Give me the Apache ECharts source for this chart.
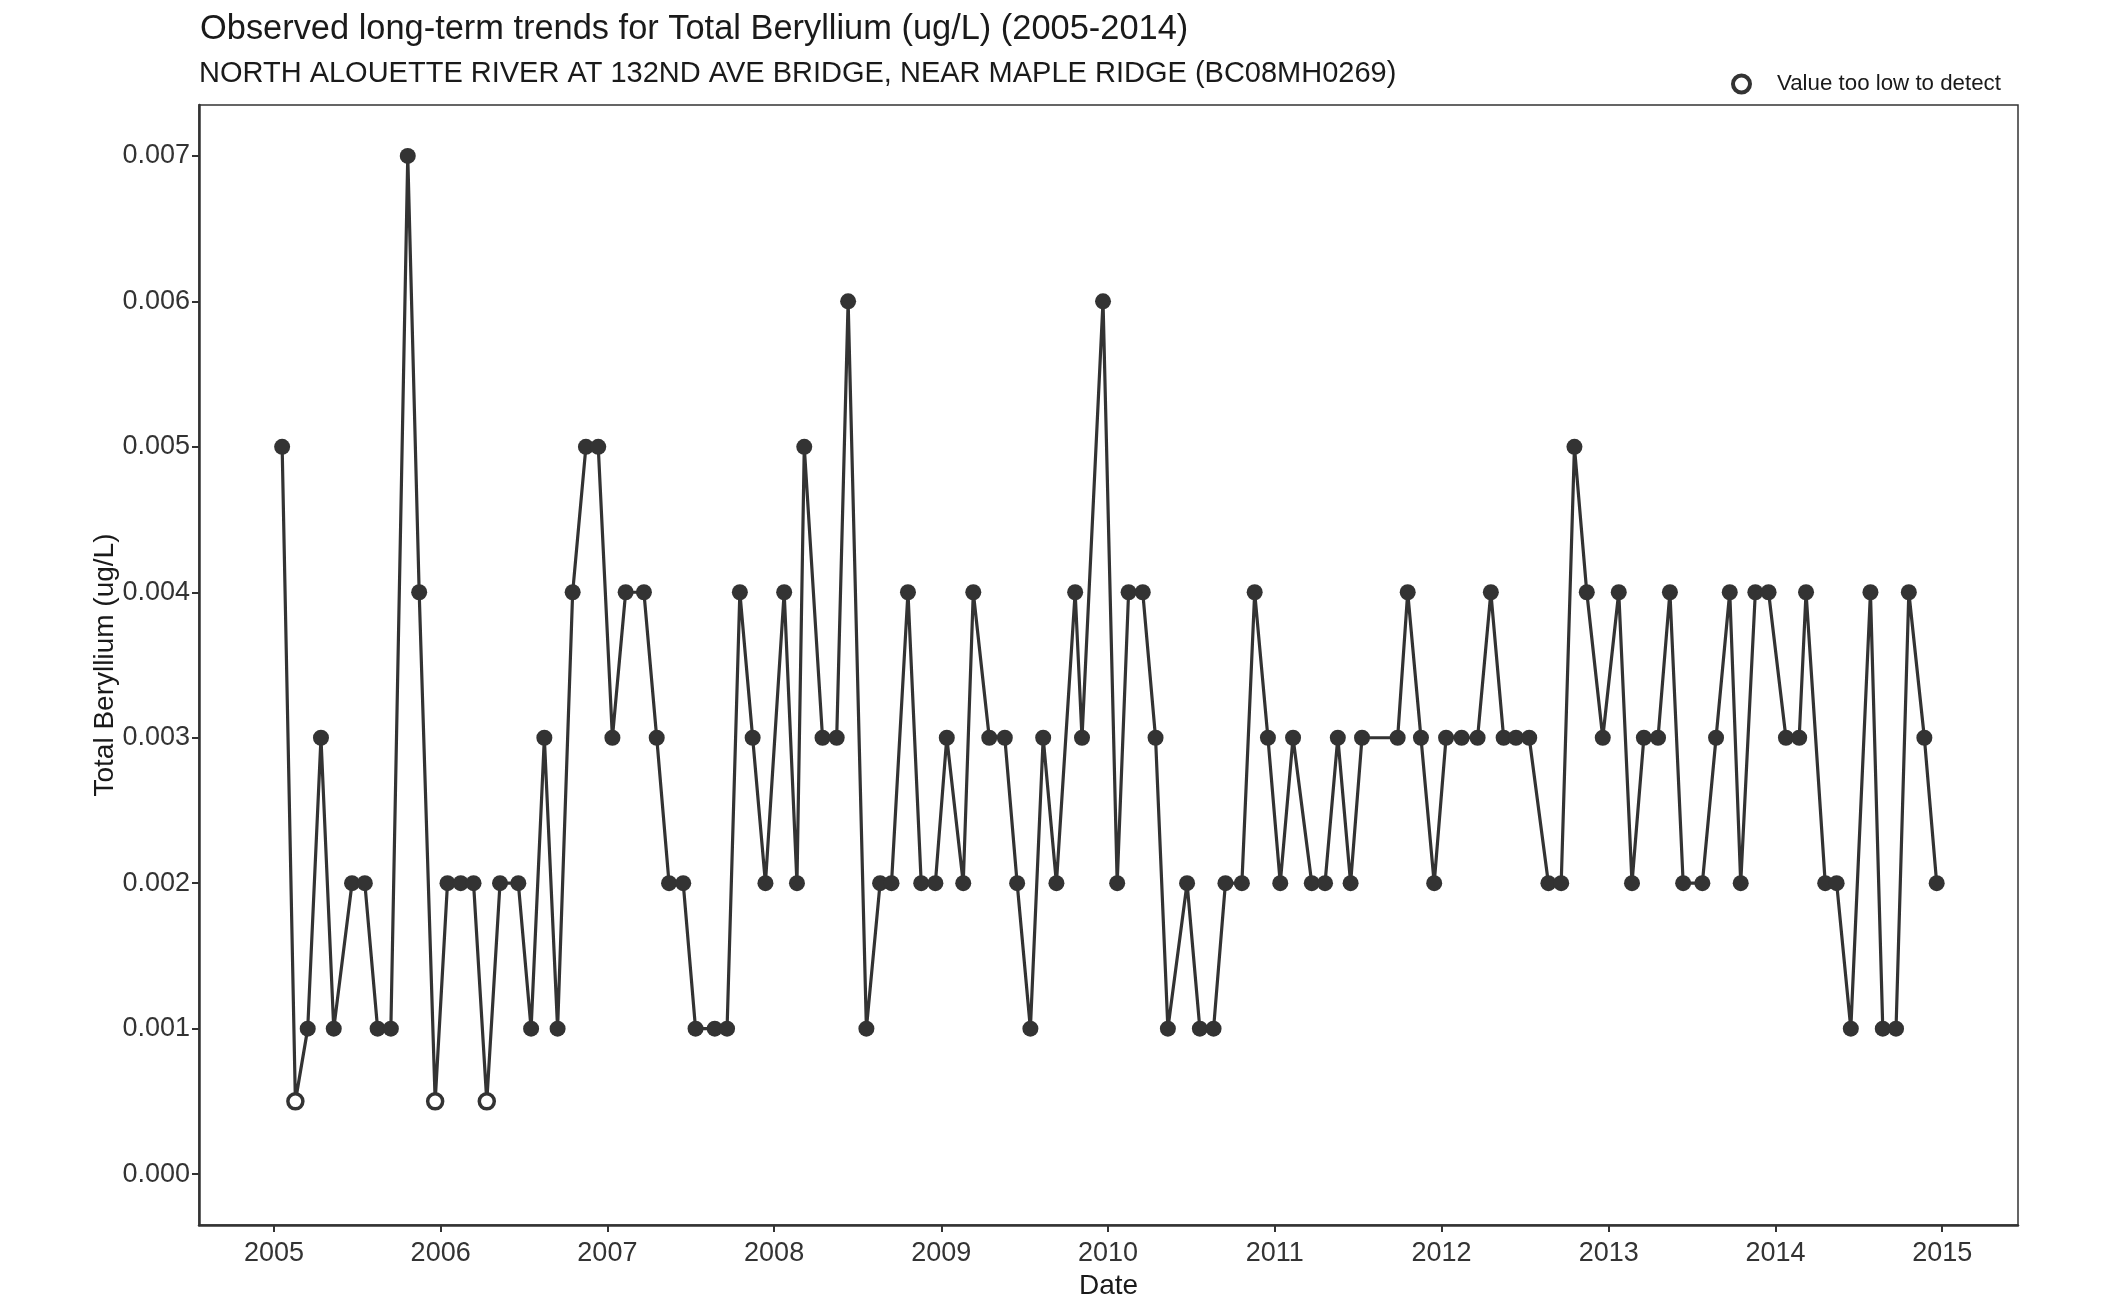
<!DOCTYPE html>
<html>
<head>
<meta charset="utf-8">
<script src="https://cdn.jsdelivr.net/npm/echarts@6/dist/echarts.min.js"></script>
<style>
html,body{margin:0;padding:0;background:#fff;}
#chart{width:2112px;height:1309px;}
</style>
</head>
<body>
<div id="chart"></div>
<script>
const dates = ['2005-01-19','2005-02-17','2005-03-16','2005-04-14','2005-05-12','2005-06-21','2005-07-19','2005-08-16','2005-09-14','2005-10-21','2005-11-15','2005-12-20',
'2006-01-16','2006-02-14','2006-03-14','2006-04-12','2006-05-11','2006-06-20','2006-07-18','2006-08-16','2006-09-14','2006-10-17','2006-11-15','2006-12-12',
'2007-01-12','2007-02-10','2007-03-22','2007-04-19','2007-05-16','2007-06-16','2007-07-13','2007-08-24','2007-09-20','2007-10-18','2007-11-15','2007-12-13',
'2008-01-23','2008-02-20','2008-03-07','2008-04-16','2008-05-17','2008-06-11','2008-07-21','2008-08-20','2008-09-14','2008-10-20','2008-11-18','2008-12-19',
'2009-01-13','2009-02-18','2009-03-12','2009-04-16','2009-05-20','2009-06-16','2009-07-15','2009-08-12','2009-09-10','2009-10-21','2009-11-05','2009-12-21',
'2010-01-21','2010-02-15','2010-03-18','2010-04-15','2010-05-12','2010-06-23','2010-07-21','2010-08-20','2010-09-15','2010-10-21','2010-11-18','2010-12-17',
'2011-01-13','2011-02-10','2011-03-23','2011-04-21','2011-05-19','2011-06-16','2011-07-11','2011-09-27','2011-10-19','2011-11-17','2011-12-16',
'2012-01-11','2012-02-14','2012-03-20','2012-04-18','2012-05-16','2012-06-12','2012-07-11','2012-08-22','2012-09-19','2012-10-18','2012-11-14','2012-12-19',
'2013-01-23','2013-02-21','2013-03-19','2013-04-19','2013-05-15','2013-06-13','2013-07-25','2013-08-24','2013-09-23','2013-10-17','2013-11-18','2013-12-17',
'2014-01-24','2014-02-22','2014-03-09','2014-04-20','2014-05-15','2014-06-15','2014-07-28','2014-08-24','2014-09-22','2014-10-20','2014-11-23','2014-12-20'];

const values = [
0.005,0.0005,0.001,0.003,0.001,0.002,0.002,0.001,0.001,0.007,0.004,0.0005,
0.002,0.002,0.002,0.0005,0.002,0.002,0.001,0.003,0.001,0.004,0.005,0.005,
0.003,0.004,0.004,0.003,0.002,0.002,0.001,0.001,0.001,0.004,0.003,0.002,
0.004,0.002,0.005,0.003,0.003,0.006,0.001,0.002,0.002,0.004,0.002,0.002,
0.003,0.002,0.004,0.003,0.003,0.002,0.001,0.003,0.002,0.004,0.003,0.006,
0.002,0.004,0.004,0.003,0.001,0.002,0.001,0.001,0.002,0.002,0.004,0.003,
0.002,0.003,0.002,0.002,0.003,0.002,0.003,0.003,0.004,0.003,0.002,
0.003,0.003,0.003,0.004,0.003,0.003,0.003,0.002,0.002,0.005,0.004,0.003,
0.004,0.002,0.003,0.003,0.004,0.002,0.002,0.003,0.004,0.002,0.004,0.004,
0.003,0.003,0.004,0.002,0.002,0.001,0.004,0.001,0.001,0.004,0.003,0.002];

// 1 = value too low to detect
const belowDetect = [
0,1,0,0,0,0,0,0,0,0,0,1,
0,0,0,1,0,0,0,0,0,0,0,0,
0,0,0,0,0,0,0,0,0,0,0,0,
0,0,0,0,0,0,0,0,0,0,0,0,
0,0,0,0,0,0,0,0,0,0,0,0,
0,0,0,0,0,0,0,0,0,0,0,0,
0,0,0,0,0,0,0,0,0,0,0,
0,0,0,0,0,0,0,0,0,0,0,0,
0,0,0,0,0,0,0,0,0,0,0,0,
0,0,0,0,0,0,0,0,0,0,0,0];

const yTicks = [0, 0.001, 0.002, 0.003, 0.004, 0.005, 0.006, 0.007];

const titleText = 'Observed long-term trends for Total Beryllium (ug/L) (2005-2014)';
const subtitleText = 'NORTH ALOUETTE RIVER AT 132ND AVE BRIDGE, NEAR MAPLE RIDGE (BC08MH0269)';
const legendLabel = 'Value too low to detect';

const ink = '#333333';
const lineData = dates.map((d, i) => [d, values[i]]);
const ndData = dates.map((d, i) => [d, values[i]]).filter((_, i) => belowDetect[i] === 1);
const DAY = 86400000;

const chart = echarts.init(document.getElementById('chart'), null, {renderer: 'canvas'});
chart.setOption({
  backgroundColor: '#ffffff',
  animation: false,
  textStyle: {fontFamily: 'Liberation Sans, Arial, sans-serif'},
  title: [
    {text: titleText, left: 195, top: 8,
     textStyle: {fontSize: 34.4, fontWeight: 'normal', color: '#1a1a1a', fontFamily: 'Liberation Sans, Arial, sans-serif'}},
    {text: subtitleText, left: 194, top: 54,
     textStyle: {fontSize: 29, fontWeight: 'normal', color: '#1a1a1a', fontFamily: 'Liberation Sans, Arial, sans-serif'}}
  ],
  legend: {
    data: [{name: legendLabel, icon: 'circle', itemStyle: {color: '#ffffff', borderColor: ink, borderWidth: 4}}],
    left: 1726, top: 68,
    itemWidth: 17, itemHeight: 17,
    textStyle: {fontSize: 22.3, color: '#1a1a1a', padding: [0, 0, 0, 22], fontFamily: 'Liberation Sans, Arial, sans-serif'}
  },
  grid: {
    left: 199, right: 94, top: 105, bottom: 84,
    show: true, borderColor: ink, borderWidth: 1.5, backgroundColor: 'transparent'
  },
  xAxis: {
    type: 'time',
    min: new Date(2004, 6, 21).getTime(),
    max: new Date(2015, 5, 16).getTime(),
    minInterval: 365 * DAY,
    maxInterval: 366 * DAY,
    name: 'Date',
    nameLocation: 'middle',
    nameGap: 47,
    nameMoveOverlap: false,
    nameTextStyle: {fontSize: 28, color: '#1a1a1a'},
    axisLine: {show: true, onZero: false, lineStyle: {color: ink, width: 2.5}},
    axisTick: {show: true, length: 7, inside: false, lineStyle: {color: ink, width: 2}},
    axisLabel: {show: true, margin: 15, fontSize: 27, color: ink, showMinLabel: false, showMaxLabel: false,
      formatter: v => String(new Date(v).getFullYear())},
    splitLine: {show: false}
  },
  yAxis: {
    type: 'value',
    min: -0.00035, max: 0.00735,
    name: 'Total Beryllium (ug/L)',
    nameLocation: 'middle',
    nameGap: 80,
    nameMoveOverlap: false,
    nameRotate: 90,
    nameTextStyle: {fontSize: 28, color: '#1a1a1a'},
    axisLine: {show: true, onZero: false, lineStyle: {color: ink, width: 2.5}},
    axisTick: {show: true, length: 7, inside: false, lineStyle: {color: ink, width: 2}, customValues: yTicks},
    axisLabel: {show: true, margin: 9, fontSize: 27, color: ink, customValues: yTicks,
      formatter: v => v.toFixed(3)},
    splitLine: {show: false}
  },
  series: [
    {
      type: 'line',
      name: 'Observed',
      data: lineData,
      symbol: 'circle',
      symbolSize: 16,
      showSymbol: true,
      lineStyle: {color: ink, width: 3.2},
      itemStyle: {color: ink},
      z: 2
    },
    {
      type: 'scatter',
      name: legendLabel,
      data: ndData,
      symbol: 'circle',
      symbolSize: 15,
      itemStyle: {color: '#ffffff', borderColor: ink, borderWidth: 3.5, opacity: 1},
      z: 5
    }
  ]
});
</script>
</body>
</html>
